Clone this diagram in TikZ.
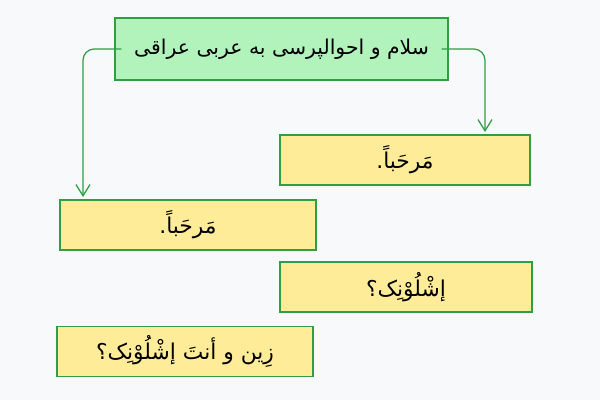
\documentclass[tikz,border=0pt]{standalone}
\usepackage{fontspec}
\usetikzlibrary{arrows.meta}
\newfontfamily\arabicfont[Script=Arabic]{DejaVu Sans}
\TeXXeTstate=1
\definecolor{bg}{HTML}{F8F9FB}
\definecolor{edge}{HTML}{2F9E44}
\definecolor{head}{HTML}{B2F2BB}
\definecolor{note}{HTML}{FFEC99}
\tikzset{
    box/.style={draw=edge, line width=1.1pt, minimum height=1.25cm, font=\arabicfont\fontsize{15.5}{18}\selectfont},
    link/.style={draw=edge, line width=0.9pt, rounded corners=8pt, -{Straight Barb[length=8pt,width=10pt]}}
}

\begin{document}
\begin{tikzpicture}
    \fill[bg] (0,0) rectangle (15,10);
    \useasboundingbox (0,0) rectangle (15,10);

    \node[box, fill=head, minimum width=8.33cm, minimum height=1.55cm, font=\arabicfont\fontsize{14.5}{17}\selectfont] (t) at (7.04,8.775) {\beginR سلام و احوالپرسی به عربی عراقی\endR};
    \node[box, fill=note, minimum width=6.25cm] (r1) at (10.125,6.0) {\beginR مَرحَباً.\endR};
    \node[box, fill=note, minimum width=6.4cm] (l1) at (4.7,4.375) {\beginR مَرحَباً.\endR};
    \node[box, fill=note, minimum width=6.3cm] (r2) at (10.15,2.825) {\beginR إشْلُوْنِک؟\endR};
    \node[box, fill=note, minimum width=6.4cm] (l2) at (4.625,1.2125) {\beginR زِین و أنتَ إشْلُوْنِک؟\endR};

    \coordinate (tl) at (2.075,5.075);
    \coordinate (tr) at (12.125,6.7);
    \draw[link] (t.west) -- ++(-0.1,0) -| (tl);
    \draw[link] (t.east) -- ++(0.1,0) -| (tr);
\end{tikzpicture}
\end{document}
